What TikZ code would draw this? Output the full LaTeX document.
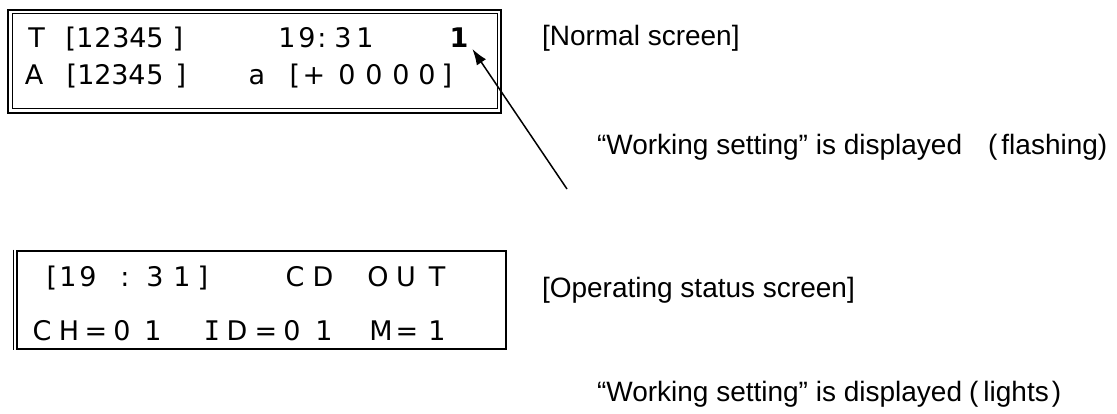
\documentclass[tikz,border=0pt]{standalone}
\usepackage{fontspec}
\setmainfont{Liberation Sans}
\newfontfamily\screenfont{DejaVu Sans}
\newfontfamily\serifI{DejaVu Sans Mono}
\usetikzlibrary{arrows.meta}
\begin{document}
\begin{tikzpicture}[x=1pt,y=-1pt,
  glyph/.style={anchor=base,inner sep=0pt,outer sep=0pt,font=\fontsize{27}{30}\screenfont},
  lbl/.style={anchor=base west,inner sep=0pt,outer sep=0pt,font=\fontsize{28}{30}\selectfont},
  thickframe/.style={draw,line width=2.6pt,inner sep=0pt,outer sep=0pt},
  thinframe/.style={draw,line width=1pt,inner sep=0pt,outer sep=0pt},
  thinline/.style={line width=1pt},
  pointer/.style={line width=1.5pt,-{Latex[length=16pt,width=11pt]}}]
\useasboundingbox (0,0) rectangle (1117,414);
\fill[white] (0,0) rectangle (1117,414);

% ---------- normal screen ----------
\node[thickframe,minimum width=493pt,minimum height=103pt] (scrA) at (254.5,61.5) {};
\node[thinframe,minimum width=485pt,minimum height=95pt] (scrAin) at (254.5,61.5) {};

\foreach \x/\c [count=\i] in {36.5/T,71/{[},85/1,103/2,121/3,138/4,155/5,178/{]},287/1,307/9,322/{:},343/3,365/1}
  \node[glyph] (a\i) at (\x,48) {\c};
\node[glyph,font=\fontsize{27}{30}\screenfont\bfseries] (boldone) at (459,48) {1};

\foreach \x/\c [count=\i] in {34/A,72/{[},86/1,103/2,120/3,137/4,155/5,181/{]},257/a,295/{[},314/{+},347/0,374/0,401/0,427/0,447/{]}}
  \node[glyph] (b\i) at (\x,85) {\c};

% ---------- operating status screen ----------
\node[thickframe,minimum width=489pt,minimum height=98pt] (scrB) at (261.5,300) {};
\coordinate (edgeTop) at (13.8,249.7);
\coordinate (edgeBot) at (13.8,350.3);
\draw[thinline] (edgeTop) -- (edgeBot);

\foreach \x/\c [count=\i] in {52/{[},68/1,88/9,125/{:},155/3,182/1,203/{]},295/C,323/D,378/O,406/U,437/T}
  \node[glyph] (c\i) at (\x,287) {\c};

\foreach \x/\c [count=\i] in {42/C,69/H,96/{=},122/0,153/1,237/D,266/{=},292/0,324/1,381/M,407/{=},437/1}
  \node[glyph] (d\i) at (\x,340) {\c};
\node[glyph,font=\fontsize{27}{30}\serifI] (dI) at (212,340) {I};

% ---------- labels ----------
\node[lbl] (lblNormal) at (542,46) {[Normal screen]};
\node[lbl] (lblFlash) at (597,155) {“Working setting” is displayed\hspace{26pt}(\hspace{4pt}flashing)};
\node[lbl] (lblOper) at (542,298) {[Operating status screen]};
\node[lbl] (lblLights) at (597,401) {“Working setting” is displayed\hspace{7pt}(\hspace{5pt}lights\hspace{3pt})};

% ---------- pointer ----------
\coordinate (arrowStart) at (567,189);
\draw[pointer] (arrowStart) -- ([xshift=4pt,yshift=-1pt]boldone.south east);
\end{tikzpicture}
\end{document}
